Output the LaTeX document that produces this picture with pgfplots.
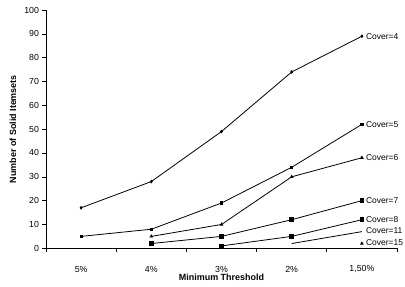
\documentclass[border=0pt]{standalone}
\usepackage{fontspec}
\setmainfont{Liberation Sans}
\usepackage{pgfplots}
\pgfplotsset{compat=1.18}
\begin{document}
\begin{tikzpicture}
\begin{axis}[
  name=ax,
  scale only axis,
  width=351bp, height=238.3bp,
  xmin=-0.5, xmax=4.5, ymin=0, ymax=100,
  axis x line*=bottom, axis y line*=left,
  axis line style={black, line width=0.6pt, -},
  xtick={0,1,2,3,4},
  xticklabels={5\%,4\%,3\%,2\%,1{,}50\%},
  minor xtick={-0.5,0.5,1.5,2.5,3.5,4.5},
  major x tick style={draw=none},
  minor x tick style={black, line width=0.6pt},
  minor tick length=3.5bp,
  ytick={0,10,...,100},
  y tick style={black, line width=0.6pt},
  major tick length=4bp,
  tick align=outside,
  /pgf/number format/assume math mode=true,
  ticklabel style={font=\fontsize{8.8}{10}\selectfont},
  yticklabel style={xshift=0.5bp},
  xticklabel style={anchor=center, yshift=-17bp},
  xlabel={\textbf{Minimum Threshold}},
  ylabel={\textbf{Number of Solid Itemsets}},
  label style={font=\fontsize{9}{10.8}\selectfont},
  xlabel style={at={(axis description cs:0.5,-0.1204)}, anchor=center},
  ylabel style={at={(axis description cs:-0.094,0.5)}, anchor=center, rotate=0},
  every axis plot/.append style={black, line width=0.8pt},
  clip=false,
]
\addplot[mark=diamond*, mark size=1.3pt] coordinates {(0,17) (1,28) (2,49) (3,74) (4,89)};
\addplot[mark=square*, mark size=1.2pt] coordinates {(0,5) (1,8) (2,19) (3,34) (4,52)};
\addplot[mark=triangle*, mark size=1.4pt] coordinates {(1,5) (2,10) (3,30) (4,38)};
\addplot[mark=square*, mark size=2pt] coordinates {(1,2) (2,5) (3,12) (4,20)};
\addplot[mark=square*, mark size=2pt] coordinates {(2,1) (3,5) (4,12)};
\addplot[mark=none] coordinates {(3,2) (4,7)};
\addplot[only marks, mark=triangle*, mark size=1.4pt] coordinates {(4,2)};
\begin{scope}[every node/.style={anchor=west, inner sep=0pt, xshift=4bp, font=\fontsize{8.5}{10}\selectfont}]
\node at (axis cs:4,89) {Cover=4};
\node at (axis cs:4,52) {Cover=5};
\node at (axis cs:4,38) {Cover=6};
\node at (axis cs:4,20) {Cover=7};
\node at (axis cs:4,12) {Cover=8};
\node at (axis cs:4,7.3) {Cover=11};
\node at (axis cs:4,2.5) {Cover=15};
\end{scope}
\end{axis}
\pgfresetboundingbox
\path (ax.south west) ++(-46bp,-38.7bp) rectangle ++(405bp,287bp);
\end{tikzpicture}
\end{document}
